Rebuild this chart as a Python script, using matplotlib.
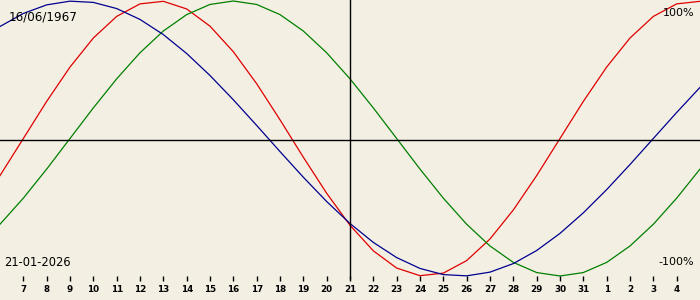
import matplotlib
matplotlib.use("Agg")
import matplotlib.pyplot as plt

# days shown, 6 .. 36 (Jan 2026, then Feb)
days = list(range(6, 37))
tick_days = list(range(7, 36))
tick_labels = [str(d) for d in range(7, 32)] + ["1", "2", "3", "4"]

# biorhythm values per day
physical = [-0.2698, 0.0, 0.2698, 0.5196, 0.7308, 0.8879, 0.9791, 0.9977, 0.9423,
            0.8170, 0.6311, 0.3984, 0.1362, -0.1362, -0.3984, -0.6311, -0.8170,
            -0.9423, -0.9977, -0.9791, -0.8879, -0.7308, -0.5196, -0.2698, 0.0,
            0.2698, 0.5196, 0.7308, 0.8879, 0.9791, 0.9977]
emotional = [-0.6235, -0.4339, -0.2225, 0.0, 0.2225, 0.4339, 0.6235, 0.7818, 0.9010,
             0.9749, 1.0, 0.9749, 0.9010, 0.7818, 0.6235, 0.4339, 0.2225, 0.0,
             -0.2225, -0.4339, -0.6235, -0.7818, -0.9010, -0.9749, -1.0, -0.9749,
             -0.9010, -0.7818, -0.6235, -0.4339, -0.2225]
intellectual = [0.8146, 0.9096, 0.9718, 0.9989, 0.9898, 0.9450, 0.8660, 0.7557, 0.6182,
                0.4582, 0.2817, 0.0951, -0.0951, -0.2817, -0.4582, -0.6182, -0.7557,
                -0.8660, -0.9450, -0.9898, -0.9989, -0.9718, -0.9096, -0.8146, -0.6901,
                -0.5406, -0.3717, -0.1893, 0.0, 0.1893, 0.3717]

today = 21
birth_text = "16/06/1967"
date_text = "21-01-2026"

bg = "#f3efe3"
fig = plt.figure(figsize=(7, 3), dpi=100, facecolor=bg)
ax = fig.add_axes([0, 0, 1, 1])
ax.set_facecolor(bg)
for s in ax.spines.values():
    s.set_visible(False)
ax.set_xticks([])
ax.set_yticks([])

px = 137.5  # pixels per unit
ax.set_xlim(6, 36)
ax.set_ylim(-1 - 24 / px, 1 + 1 / px)

lw = 0.9
ax.plot(days, physical, color="#e00000", lw=lw)
ax.plot(days, emotional, color="#008000", lw=lw)
ax.plot(days, intellectual, color="#000090", lw=lw)

# cross lines
ax.axhline(-1.5 / px, color="black", lw=1.0)
ax.vlines(today, -1 - 3 / px, 2, color="black", lw=1.0)

# day ticks along the bottom
ax.vlines(tick_days, -1 + 0.5 / px, -1 - 5 / px, color="black", lw=1.0)
for d, lab in zip(tick_days, tick_labels):
    ax.text(d, -1 - 13 / px, lab, ha="center", va="center",
            fontsize=6.3, fontweight="bold", family="DejaVu Sans")

ax.text(9, 283, birth_text, transform=None, fontsize=8.6, va="center", ha="left")
ax.text(4, 38, date_text, transform=None, fontsize=8.3, va="center", ha="left")
ax.text(694, 287, "100%", transform=None, fontsize=8, va="center", ha="right")
ax.text(694, 38, "-100%", transform=None, fontsize=8, va="center", ha="right")

fig.savefig("out.png", dpi=100, facecolor=bg)
